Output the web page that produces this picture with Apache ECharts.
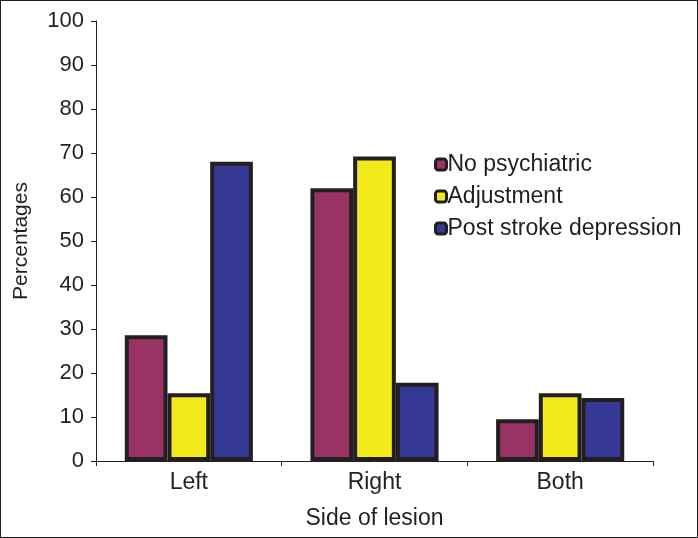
<!DOCTYPE html>
<html>
<head>
<meta charset="utf-8">
<script src="https://cdn.jsdelivr.net/npm/echarts@6/dist/echarts.min.js"></script>
<style>
    html, body { margin: 0; padding: 0; background: #fff; }
    #chart { width: 698px; height: 538px; box-sizing: border-box; border: 1px solid #231f20; }
</style>
</head>
<body>
<div id="chart"></div>
<script>
var categories = ['Left', 'Right', 'Both'];
var seriesNames = ['No psychiatric', 'Adjustment', 'Post stroke depression'];
var noPsychiatric = [28.6, 62, 9.5];
var adjustment = [15.4, 69.2, 15.4];
var postStroke = [68, 17.8, 14.3];
var colors = ['#993366', '#f2ea1a', '#363896'];

function initChart() {
    var dark = '#231f20';
    var font = 'Liberation Sans';
    var values = [noPsychiatric, adjustment, postStroke];
    var series = [];
    seriesNames.forEach(function (name, i) {
        series.push({
            name: name,
            type: 'bar',
            data: values[i],
            barGap: '0%',
            barCategoryGap: '31%',
            itemStyle: {color: colors[i], borderColor: dark, borderWidth: 4},
            emphasis: {disabled: true}
        });
    });
    var option = {
        animation: false,
        textStyle: {fontFamily: font, color: dark},
        grid: {left: 95, right: 44, top: 20, bottom: 76},
        legend: {
            orient: 'vertical',
            left: 428,
            top: 147,
            itemGap: 9,
            itemWidth: 11,
            itemHeight: 11,
            itemStyle: {borderColor: dark, borderWidth: 3},
            textStyle: {fontSize: 23, color: dark, fontFamily: font, padding: [0, 0, 0, -4]},
            data: seriesNames
        },
        xAxis: {
            type: 'category',
            data: categories,
            name: 'Side of lesion',
            nameLocation: 'middle',
            nameGap: 46,
            nameTextStyle: {fontSize: 23, color: dark},
            axisLine: {lineStyle: {color: dark, width: 1}},
            axisTick: {show: true, length: 5, lineStyle: {color: dark}},
            axisLabel: {fontSize: 23, color: dark, margin: 10}
        },
        yAxis: {
            type: 'value',
            min: 0,
            max: 100,
            interval: 10,
            name: 'Percentages',
            nameLocation: 'middle',
            nameGap: 64,
            nameTextStyle: {fontSize: 21, color: dark},
            axisLine: {show: true, lineStyle: {color: dark, width: 1}},
            axisTick: {show: true, length: 5, lineStyle: {color: dark}},
            axisLabel: {fontSize: 22, color: dark, margin: 12},
            splitLine: {show: false}
        },
        series: series
    };
    var chart = echarts.init(document.getElementById('chart'));
    chart.setOption(option);
}

initChart();
</script>
</body>
</html>
